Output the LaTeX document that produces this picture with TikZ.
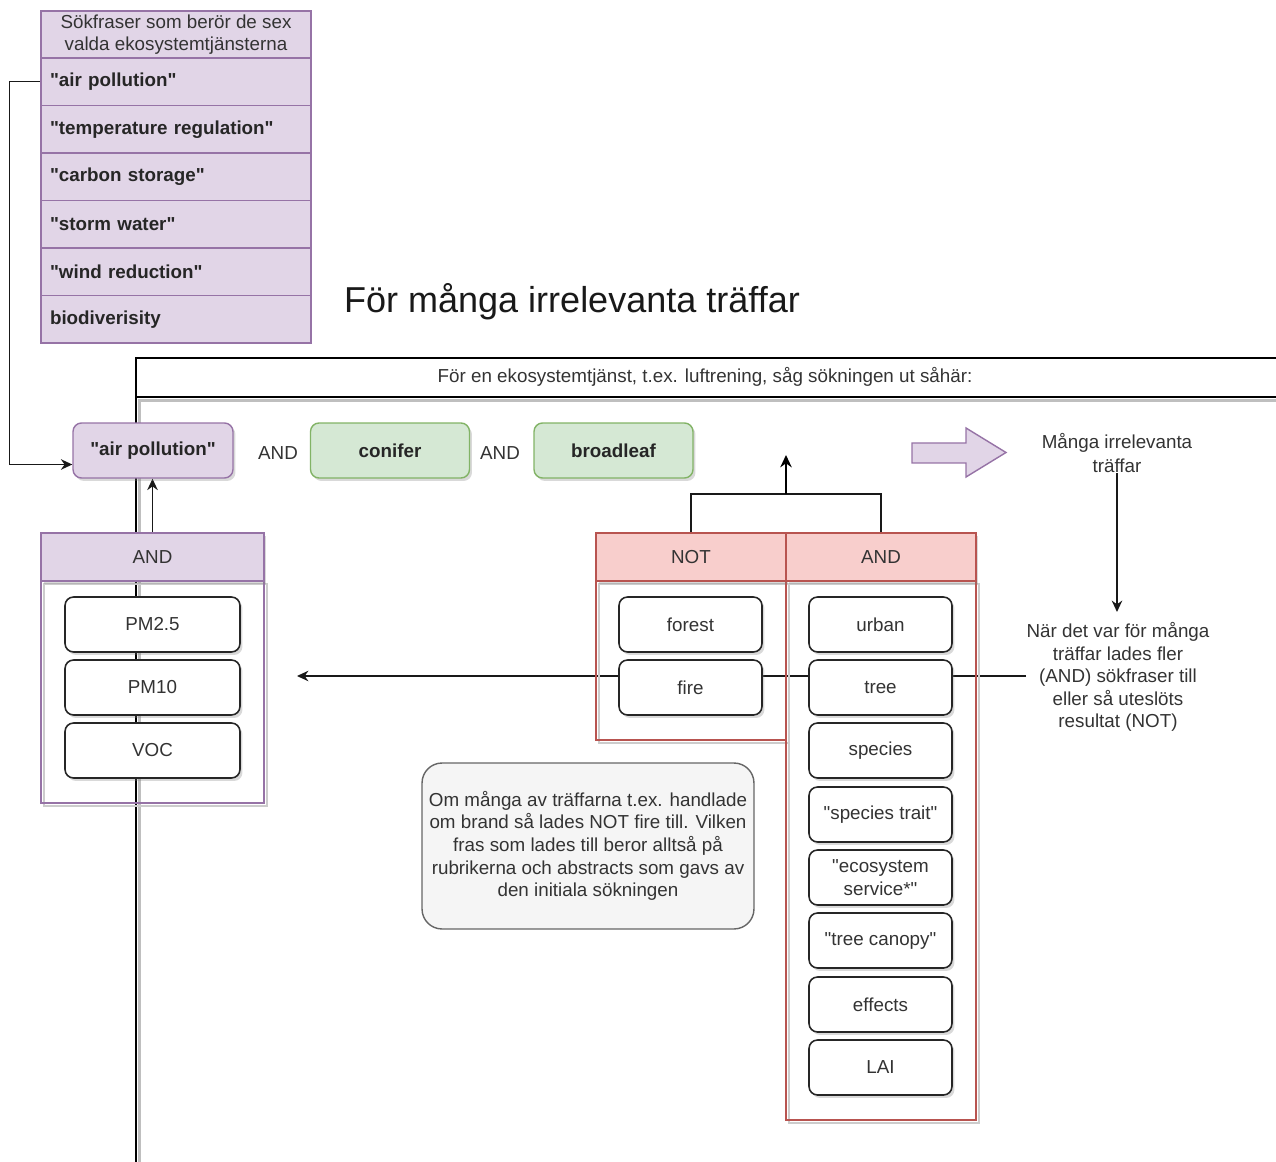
\documentclass[tikz,border=0pt]{standalone}
\usepackage{fontspec}
\setmainfont{Liberation Sans}[Ligatures=TeXOff]
\usetikzlibrary{arrows.meta,shadows,calc}
\definecolor{lavf}{HTML}{E1D5E7}
\definecolor{lavb}{HTML}{9673A6}
\definecolor{grnf}{HTML}{D5E8D4}
\definecolor{grnb}{HTML}{82B366}
\definecolor{redf}{HTML}{F8CECC}
\definecolor{redb}{HTML}{B85450}
\definecolor{notef}{HTML}{F5F5F5}
\definecolor{noteb}{HTML}{666666}
\definecolor{txtc}{HTML}{333333}
\pgfdeclarelayer{bg}
\pgfsetlayers{bg,main}
\tikzset{
  base/.style={font=\fontsize{10.7}{12.75}\selectfont, text=txtc, inner sep=0pt, align=center},
  boldbase/.style={base, font=\fontsize{10.7}{12.75}\selectfont\bfseries, text=black!85},
  softshadow/.style={drop shadow={shadow xshift=0.05cm, shadow yshift=-0.06cm, opacity=0.3}},
  termbox/.style={base, draw=black!85, line width=0.9pt, fill=white, rounded corners=0.17cm,
    minimum width=#1, minimum height=1.1cm, softshadow},
  rowbox/.style={boldbase, draw=lavb, fill=lavf, line width=0.8pt, text width=5.04cm,
    inner xsep=0.18cm, inner ysep=0pt, minimum height=0.95cm, align=left},
  phrase/.style={boldbase, draw=#1b, fill=#1f, line width=0.8pt, rounded corners=0.17cm,
    minimum height=1.1cm, softshadow},
  lanehead/.style={base, draw=#1b, fill=#1f, line width=0.8pt, minimum height=0.96cm, softshadow},
  conn/.style={line width=0.8pt, black!90},
  tip/.style={-{Stealth[length=6.5pt,width=6pt]}},
}
\begin{document}
\begin{tikzpicture}[x=0.02cm, y=-0.02cm]
\useasboundingbox (0,0) rectangle (1276,1162);

% list of search phrases, one per ecosystem service
\node[base, draw=lavb, fill=lavf, line width=0.8pt, minimum width=5.4cm, minimum height=0.94cm] (hdr) at (176,34.5)
  {Sökfraser som berör de sex\\valda ekosystemtjänsterna};
\node[rowbox] (r1) at (176,81.75) {"air pollution"};
\node[rowbox] (r2) at (176,129.25) {"temperature regulation"};
\node[rowbox] (r3) at (176,176.75) {"carbon storage"};
\node[rowbox] (r4) at (176,224.25) {"storm water"};
\node[rowbox] (r5) at (176,271.75) {"wind reduction"};
\node[rowbox] (r6) at (176,319.25) {biodiverisity};

% headline
\node[font=\fontsize{20.5}{24}\selectfont, text=black!90, inner sep=0pt] (title) at (572,302) {För många irrelevanta träffar};

% search row
\node[phrase=lav, minimum width=3.2cm] (ap) at (153,450.5) {"air pollution"};
\node[base] (and1) at (278,453) {AND};
\node[phrase=grn, minimum width=3.18cm] (con) at (390,450.5) {conifer};
\node[base] (and2) at (500,453) {AND};
\node[phrase=grn, minimum width=3.18cm] (brd) at (613.5,450.5) {broadleaf};

% header of the swimlane
\node[base] (laneh) at (705,377) {För en ekosystemtjänst, t.ex. luftrening, såg sökningen ut såhär:};

% outlines of the term lists (shadow first, then coloured frame)
\draw[black!20, line width=1pt] (44,584) rectangle (267,806);
\draw[lavb, line width=0.8pt] (41,581) rectangle (264,803);
\draw[black!20, line width=1pt] (599,584) rectangle (789,743);
\draw[redb, line width=0.8pt] (596,581) rectangle (786,740);
\draw[black!20, line width=1pt] (789,584) rectangle (979,1123);
\draw[redb, line width=0.8pt] (786,581) rectangle (976,1120);

% term lists
\node[lanehead=lav, minimum width=4.46cm] (andA) at (152.5,557) {AND};
\node[termbox=3.5cm] (pm25) at (152.5,624.5) {PM2.5};
\node[termbox=3.5cm] (pm10) at (152.5,687.5) {PM10};
\node[termbox=3.5cm] (voc) at (152.5,750.5) {VOC};

\node[lanehead=red, minimum width=3.8cm] (notH) at (691,557) {NOT};
\node[termbox=2.86cm] (forest) at (690.5,624.5) {forest};
\node[termbox=2.86cm] (fire) at (690.5,687.5) {fire};

\node[lanehead=red, minimum width=3.8cm] (andH) at (881,557) {AND};
\node[termbox=2.86cm] (urban) at (880.5,624.5) {urban};
\node[termbox=2.86cm] (tree) at (880.5,687.5) {tree};
\node[termbox=2.86cm] (species) at (880.5,750.5) {species};
\node[termbox=2.86cm] (trait) at (880.5,814.5) {"species trait"};
\node[termbox=2.86cm] (ecos) at (880.5,877.5) {"ecosystem\\service*"};
\node[termbox=2.86cm] (canopy) at (880.5,940.5) {"tree canopy"};
\node[termbox=2.86cm] (effects) at (880.5,1004.5) {effects};
\node[termbox=2.86cm] (lai) at (880.5,1067.5) {LAI};

% note
\node[base, draw=noteb, fill=notef, line width=0.8pt, rounded corners=0.4cm,
  minimum width=6.64cm, minimum height=3.32cm, font=\fontsize{10.7}{12.9}\selectfont] (note) at (588,846)
  {Om många av träffarna t.ex. handlade\\om brand så lades NOT fire till. Vilken\\fras som lades till beror alltså på\\rubrikerna och abstracts som gavs av\\den initiala sökningen};

% result side
\draw[lavb, fill=lavf, line width=0.8pt] (912,443) -- (966,443) -- (966,428) -- (1006,452.5)
  -- (966,477) -- (966,463) -- (912,463) -- cycle;
\node[base, font=\fontsize{10.7}{13.5}\selectfont] (many) at (1117,453) {Många irrelevanta\\träffar};
\node[base] (when) at (1118,677) {När det var för många\\träffar lades fler\\(AND) sökfraser till\\eller så uteslöts\\resultat (NOT)};

\coordinate (merge) at (786,494);
\coordinate (mtop) at (786,455);
\coordinate (lhit) at (297,676);
\coordinate (whentop) at (1117,612);

\begin{pgfonlayer}{bg}
  % swimlane frame
  \draw[black!25, line width=1.4pt] (139.5,1175) -- (139.5,400.5) -- (1300,400.5);
  \draw[line width=0.9pt] (136,1175) -- (136,358) -- (1300,358);
  \draw[line width=0.9pt] (136,397) -- (1300,397);
  % connectors
  \draw[conn, tip] (r1.west) -- ++(-31,0) |- ($(ap.west)+(0,14)$);
  \draw[conn, tip] (andA.north) -- (andA.north |- ap.south);
  \draw[conn] (notH.north) |- (merge);
  \draw[conn] (andH.north) |- (merge);
  \draw[line width=1.6pt, -{Stealth[length=7pt,width=6.5pt]}] (merge) -- (mtop);
  \draw[conn, tip] (many.south) -- (whentop);
  \draw[conn, tip] (when.west |- lhit) -- (lhit);
\end{pgfonlayer}
\end{tikzpicture}
\end{document}
